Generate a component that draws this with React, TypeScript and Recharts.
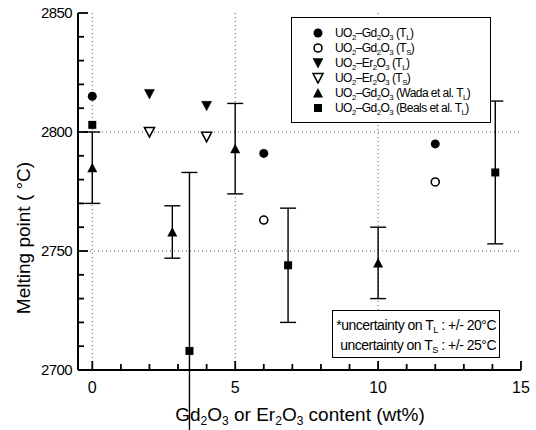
import { ScatterChart, Scatter, XAxis, YAxis, ErrorBar, ReferenceLine } from "recharts";

// axis ticks (minor every 1 wt% / 10 °C, labels on the majors)
const xTicks = [0, 1, 2, 3, 4, 5, 6, 7, 8, 9, 10, 11, 12, 13, 14, 15];
const yTicks = [2700, 2710, 2720, 2730, 2740, 2750, 2760, 2770, 2780, 2790, 2800, 2810, 2820, 2830, 2840, 2850];
const gridX = [0, 5, 10];
const gridY = [2750, 2800];

// UO2-Gd2O3, this work
const gdX = [0, 6, 12];
const gdLiquidus = [2815, 2791, 2795];
const gdSolidusX = [6, 12];
const gdSolidus = [2763, 2779];
// UO2-Er2O3, this work
const erX = [2, 4];
const erLiquidus = [2816, 2811];
const erSolidus = [2800, 2798];
// literature
const wadaX = [0, 2.8, 5, 10];
const wadaLiquidus = [2785, 2758, 2793, 2745];
const wadaErr = [15, 11, 19, 15];
const bealsX = [0, 3.4, 6.85, 14.1];
const bealsLiquidus = [2803, 2708, 2744, 2783];
const bealsErr = [0, 75, 24, 30];

const FONT = "'Liberation Sans', Arial, Helvetica, sans-serif";
const frame = { stroke: "#000", strokeWidth: 2 };
const TICK_W = 1.8;
const TICK_C = "#000";

const toPoints = (xs: number[], ys: number[], errs?: number[]) =>
  xs.map((x, i) => ({ x, y: ys[i], err: errs ? errs[i] : 0 }));

const FilledCircle = ({ cx, cy }: any) => <circle cx={cx} cy={cy} r={4.5} fill="#000" />;
const OpenCircle = ({ cx, cy }: any) => <circle cx={cx} cy={cy} r={4} fill="#fff" stroke="#000" strokeWidth={1.6} />;
const DownTri = ({ cx, cy, open }: any) => (
  <polygon
    points={`${cx - 5},${cy - 4.5} ${cx + 5},${cy - 4.5} ${cx},${cy + 5}`}
    fill={open ? "#fff" : "#000"}
    stroke="#000"
    strokeWidth={open ? 1.6 : 0.5}
  />
);
const UpTri = ({ cx, cy }: any) => (
  <polygon points={`${cx - 5},${cy + 4.5} ${cx + 5},${cy + 4.5} ${cx},${cy - 5}`} fill="#000" />
);
const Square = ({ cx, cy }: any) => <rect x={cx - 4} y={cy - 4} width={8} height={8} fill="#000" />;

// inward tick marks drawn in the tick renderers, longer on the labelled majors
const bottomTick = (p: any) => {
  const major = p.payload.value % 5 === 0;
  return (
    <g>
      <path d={`M${p.x},${p.y}V${p.y - (major ? 9 : 6)}`} stroke={TICK_C} strokeWidth={TICK_W} fill="none" />
      {major && (
        <text x={p.x} y={p.y + 23} textAnchor="middle" fontSize={16} fill="#000" fontFamily={FONT}>
          {p.payload.value}
        </text>
      )}
    </g>
  );
};
const topTick = (p: any) => {
  const major = p.payload.value % 5 === 0;
  return <path d={`M${p.x},${p.y}V${p.y + (major ? 9 : 6)}`} stroke={TICK_C} strokeWidth={TICK_W} fill="none" />;
};
const leftTick = (p: any) => {
  const major = p.payload.value % 50 === 0;
  return (
    <g>
      <path d={`M${p.x},${p.y}H${p.x + (major ? 10 : 6)}`} stroke={TICK_C} strokeWidth={TICK_W} fill="none" />
      {major && (
        <text x={p.x - 6} y={p.y + 5} textAnchor="end" fontSize={15} fill="#000" fontFamily={FONT} letterSpacing={-0.6}>
          {p.payload.value}
        </text>
      )}
    </g>
  );
};
const rightTick = (p: any) => {
  const major = p.payload.value % 50 === 0;
  return <path d={`M${p.x},${p.y}H${p.x - (major ? 10 : 6)}`} stroke={TICK_C} strokeWidth={TICK_W} fill="none" />;
};

const XTitle = () => (
  <text x={300} y={421} textAnchor="middle" fontSize={19} fill="#000" fontFamily={FONT}>
    Gd<tspan fontSize={12} dy={4}>2</tspan>
    <tspan dy={-4}>O</tspan>
    <tspan fontSize={12} dy={4}>3</tspan>
    <tspan dy={-4}> or Er</tspan>
    <tspan fontSize={12} dy={4}>2</tspan>
    <tspan dy={-4}>O</tspan>
    <tspan fontSize={12} dy={4}>3</tspan>
    <tspan dy={-4}> content (wt%)</tspan>
  </text>
);
const YTitle = () => (
  <text
    x={23}
    y={238}
    transform="rotate(-90, 23, 238)"
    textAnchor="middle"
    dominantBaseline="central"
    fontSize={19}
    fill="#000"
    fontFamily={FONT}
  >
    Melting point (  °C)
  </text>
);

const Sb = ({ c }: { c: string }) => (
  <span style={{ fontSize: "0.65em", position: "relative", top: 3 }}>{c}</span>
);

const Marker = ({ kind }: { kind: string }) => (
  <svg width={12} height={12} style={{ display: "block" }}>
    {kind === "fc" && <FilledCircle cx={6} cy={6} />}
    {kind === "oc" && <OpenCircle cx={6} cy={6} />}
    {kind === "fd" && <DownTri cx={6} cy={6} />}
    {kind === "od" && <DownTri cx={6} cy={6} open />}
    {kind === "ut" && <UpTri cx={6} cy={6} />}
    {kind === "sq" && <Square cx={6} cy={6} />}
  </svg>
);

const legendRows = [
  { kind: "fc", label: <>UO<Sb c="2" />–Gd<Sb c="2" />O<Sb c="3" /> (T<Sb c="L" />)</> },
  { kind: "oc", label: <>UO<Sb c="2" />–Gd<Sb c="2" />O<Sb c="3" /> (T<Sb c="S" />)</> },
  { kind: "fd", label: <>UO<Sb c="2" />–Er<Sb c="2" />O<Sb c="3" /> (T<Sb c="L" />)</> },
  { kind: "od", label: <>UO<Sb c="2" />–Er<Sb c="2" />O<Sb c="3" /> (T<Sb c="S" />)</> },
  { kind: "ut", label: <>UO<Sb c="2" />–Gd<Sb c="2" />O<Sb c="3" /> (Wada et al. T<Sb c="L" />)</> },
  { kind: "sq", label: <>UO<Sb c="2" />–Gd<Sb c="2" />O<Sb c="3" /> (Beals et al. T<Sb c="L" />)</> },
];

export default function App() {
  return (
    <div style={{ position: "relative", width: 536, height: 430, fontFamily: FONT, background: "#fff" }}>
      <style>{"body{margin:0}"}</style>
      <ScatterChart width={536} height={430} margin={{ top: 13, right: 15, bottom: 0, left: 0 }}>
        <XAxis
          xAxisId={0}
          dataKey="x"
          type="number"
          domain={[-0.5, 15]}
          ticks={xTicks}
          interval={0}
          height={60}
          tickSize={0}
          tickMargin={0}
          tickLine={false}
          tick={bottomTick}
          axisLine={frame}
          label={<XTitle />}
        />
        <XAxis
          xAxisId="top"
          orientation="top"
          type="number"
          domain={[-0.5, 15]}
          ticks={xTicks}
          interval={0}
          height={0}
          tickSize={0}
          tickMargin={0}
          tickLine={false}
          tick={topTick}
          axisLine={frame}
        />
        <YAxis
          yAxisId={0}
          dataKey="y"
          type="number"
          domain={[2700, 2850]}
          allowDataOverflow
          ticks={yTicks}
          interval={0}
          width={78}
          tickSize={0}
          tickMargin={0}
          tickLine={false}
          tick={leftTick}
          axisLine={frame}
          label={<YTitle />}
        />
        <YAxis
          yAxisId="right"
          orientation="right"
          type="number"
          domain={[2700, 2850]}
          ticks={yTicks}
          interval={0}
          width={0}
          tickSize={0}
          tickMargin={0}
          tickLine={false}
          tick={rightTick}
          axisLine={frame}
        />
        {gridX.map((v) => (
          <ReferenceLine key={"gx" + v} x={v} stroke="#555" strokeDasharray="1 3" />
        ))}
        {gridY.map((v) => (
          <ReferenceLine key={"gy" + v} y={v} stroke="#555" strokeDasharray="1 3" />
        ))}
        <Scatter data={toPoints(wadaX, wadaLiquidus, wadaErr)} shape={<UpTri />} isAnimationActive={false}>
          <ErrorBar dataKey="err" direction="y" width={8} stroke="#000" strokeWidth={1.4} />
        </Scatter>
        <Scatter data={toPoints(bealsX, bealsLiquidus, bealsErr)} shape={<Square />} isAnimationActive={false}>
          <ErrorBar dataKey="err" direction="y" width={8} stroke="#000" strokeWidth={1.4} />
        </Scatter>
        <Scatter data={toPoints(gdX, gdLiquidus)} shape={<FilledCircle />} isAnimationActive={false} />
        <Scatter data={toPoints(gdSolidusX, gdSolidus)} shape={<OpenCircle />} isAnimationActive={false} />
        <Scatter data={toPoints(erX, erLiquidus)} shape={<DownTri />} isAnimationActive={false} />
        <Scatter data={toPoints(erX, erSolidus)} shape={<DownTri open />} isAnimationActive={false} />
      </ScatterChart>

      <div
        style={{
          position: "absolute",
          left: 291,
          top: 17,
          width: 200,
          height: 106,
          border: "1.5px solid #000",
          background: "#fff",
          paddingTop: 7,
          boxSizing: "border-box",
        }}
      >
        {legendRows.map((r, i) => (
          <div
            key={i}
            style={{ display: "flex", alignItems: "center", height: 15, fontSize: 12, letterSpacing: -0.55, whiteSpace: "nowrap" }}
          >
            <div style={{ width: 12, marginLeft: 19.5, flexShrink: 0 }}>
              <Marker kind={r.kind} />
            </div>
            <div style={{ marginLeft: 11.5, flexShrink: 0 }}>{r.label}</div>
          </div>
        ))}
      </div>

      <div
        style={{
          position: "absolute",
          left: 332,
          top: 310,
          width: 168,
          height: 48,
          border: "1.5px solid #000",
          background: "#fff",
          fontSize: 14,
          letterSpacing: -0.5,
          textAlign: "right",
          paddingRight: 3,
          lineHeight: "18px",
          paddingTop: 5,
          boxSizing: "border-box",
          whiteSpace: "nowrap",
        }}
      >
        <div>
          *uncertainty on T<Sb c="L" /> : +/- 20°C
        </div>
        <div>
          uncertainty on T<Sb c="S" /> : +/- 25°C
        </div>
      </div>
    </div>
  );
}
